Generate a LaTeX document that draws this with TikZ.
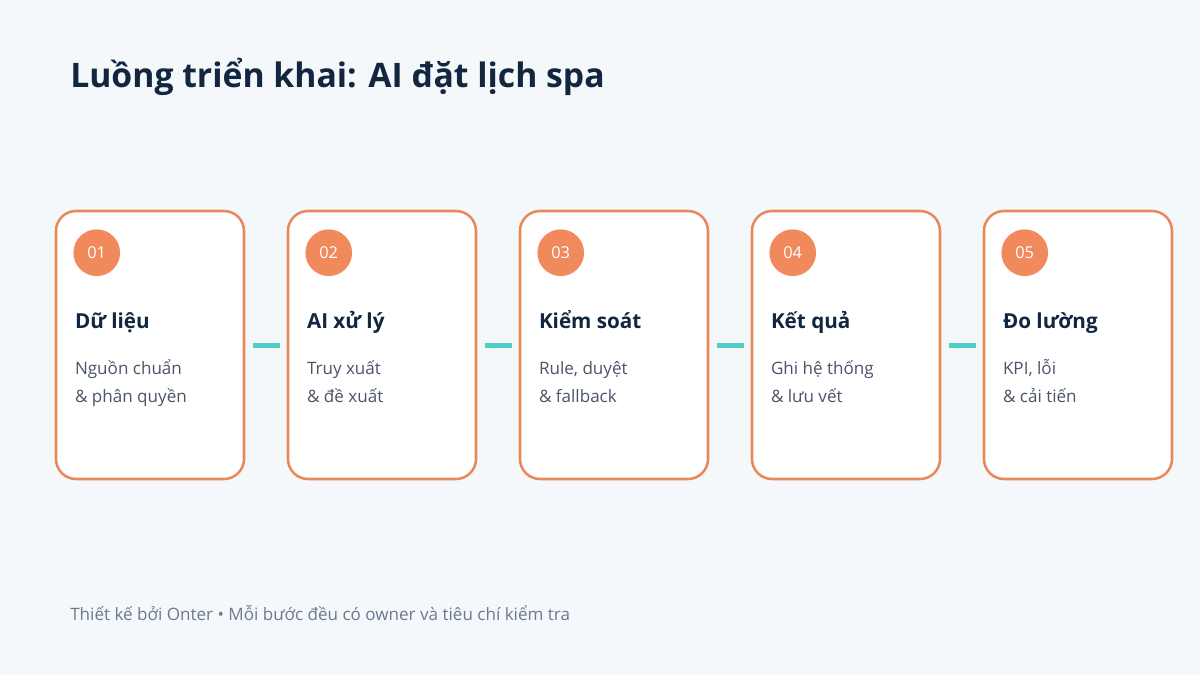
\documentclass[tikz,border=0pt]{standalone}
\usepackage{fontspec}
\setmainfont{Open Sans}
\usetikzlibrary{positioning}
\definecolor{pagebg}{HTML}{F5F8FB}
\definecolor{cardline}{HTML}{E8895C}
\definecolor{badgefill}{HTML}{F08A5D}
\definecolor{linkteal}{HTML}{4ECDC4}
\definecolor{inkdark}{HTML}{12263F}
\definecolor{inksoft}{HTML}{4A5568}
\definecolor{inkfoot}{HTML}{6B7A90}
\tikzstyle{card}=[draw=cardline,line width=1.9pt,fill=white,rounded corners=15pt,minimum width=141pt,minimum height=201pt,inner sep=0pt]
\tikzstyle{badge}=[circle,fill=badgefill,minimum size=35pt,inner sep=0pt,text=white,font=\fontsize{12.3}{14}\selectfont]
\tikzstyle{heading}=[anchor=base west,inner sep=0pt,text=inkdark,font=\fontsize{15.5}{20}\selectfont\bfseries]
\tikzstyle{detail}=[anchor=base west,inner sep=0pt,align=left,text=inksoft,font=\fontsize{12.8}{21}\selectfont]
\tikzstyle{link}=[draw=linkteal,line width=3.75pt,shorten <=6pt,shorten >=5.25pt]
\begin{document}
\begin{tikzpicture}[x=0.75pt,y=-0.75pt]
  \fill[pagebg] (0,0) rectangle (1200,675);
  \useasboundingbox (0,0) rectangle (1200,675);
  % title
  \node[anchor=base west,inner sep=0pt,text=inkdark,font=\fontsize{25.3}{30}\selectfont\bfseries] (title) at (70,87) {Luồng triển khai: AI đặt lịch spa};
  % steps
  \foreach \i/\x/\name/\lineA/\lineB in {1/150/Dữ liệu/Nguồn chuẩn/\& phân quyền,
      2/382/AI xử lý/Truy xuất/\& đề xuất,
      3/614/Kiểm soát/{Rule, duyệt}/\& fallback,
      4/846/Kết quả/Ghi hệ thống/\& lưu vết,
      5/1078/Đo lường/{KPI, lỗi}/\& cải tiến}{
    \node[card] (card\i) at (\x,345) {};
    \node[badge] (badge\i) at ([shift={(42,43)}]card\i.north west) {0\i};
    \node[heading] (head\i) at ([shift={(20,119)}]card\i.north west) {\name};
    \node[detail] (text\i) at ([shift={(20,193)}]card\i.north west) {\lineA\\\lineB};
  }
  % connectors
  \foreach \i [evaluate=\i as \j using int(\i+1)] in {1,...,4}
    \draw[link] (card\i) -- (card\j);
  % footer
  \node[anchor=base west,inner sep=0pt,text=inkfoot,font=\fontsize{12.8}{16}\selectfont] (foot) at (70,620) {Thiết kế bởi Onter • Mỗi bước đều có owner và tiêu chí kiểm tra};
\end{tikzpicture}
\end{document}
